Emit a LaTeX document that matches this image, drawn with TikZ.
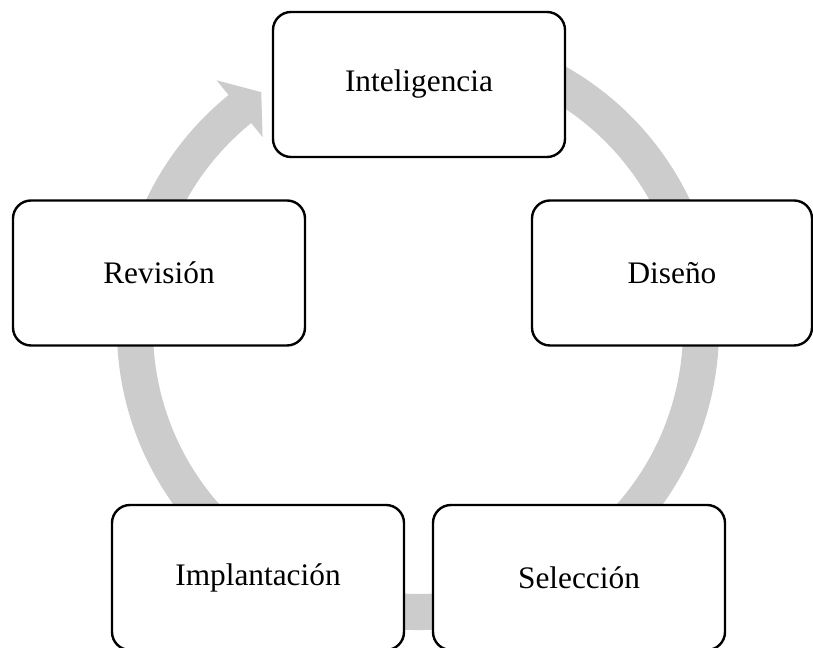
\documentclass[tikz,border=0pt]{standalone}
\usepackage{fontspec}
\setmainfont{Liberation Serif}
\usetikzlibrary{calc}
\definecolor{ringgray}{HTML}{CCCCCC}
\tikzset{
  stagebox/.style={draw=black, line width=1.8pt, fill=white, rounded corners=13.5pt,
    minimum width=219pt, minimum height=108.75pt, inner sep=0pt,
    font=\fontsize{23.5}{28}\selectfont},
  ringfill/.style={fill=ringgray, draw=none}
}
\begin{document}
\begin{tikzpicture}[x=0.75pt, y=0.75pt]
  \useasboundingbox (0,0) rectangle (813,648);
  \clip (0,0) rectangle (813,648);
  \fill[white] (0,0) rectangle (813,648);
  \coordinate (c) at (418,319);
  % grey cycle ring with arrowhead
  \fill[ringfill] ($(c)+(80:301)$) arc[start angle=80, end angle=-231, radius=301]
    -- ($(c)+(129:320)$) -- ($(c)+(123.5:284)$) -- ($(c)+(129:247)$)
    -- ($(c)+(129:265)$) arc[start angle=129, end angle=440, radius=265] -- cycle;
  % stages
  \node[stagebox] (intel) at (419,563.5) {Inteligencia};
  \node[stagebox, minimum width=210pt] (dis) at (672,375) {Diseño};
  \node[stagebox] (rev) at (159,375) {Revisión};
  \node[stagebox] (impl) at (258,70.5) {Implantación};
  \node[stagebox] (sel) at (579,70.5) {Selección};
\end{tikzpicture}
\end{document}
